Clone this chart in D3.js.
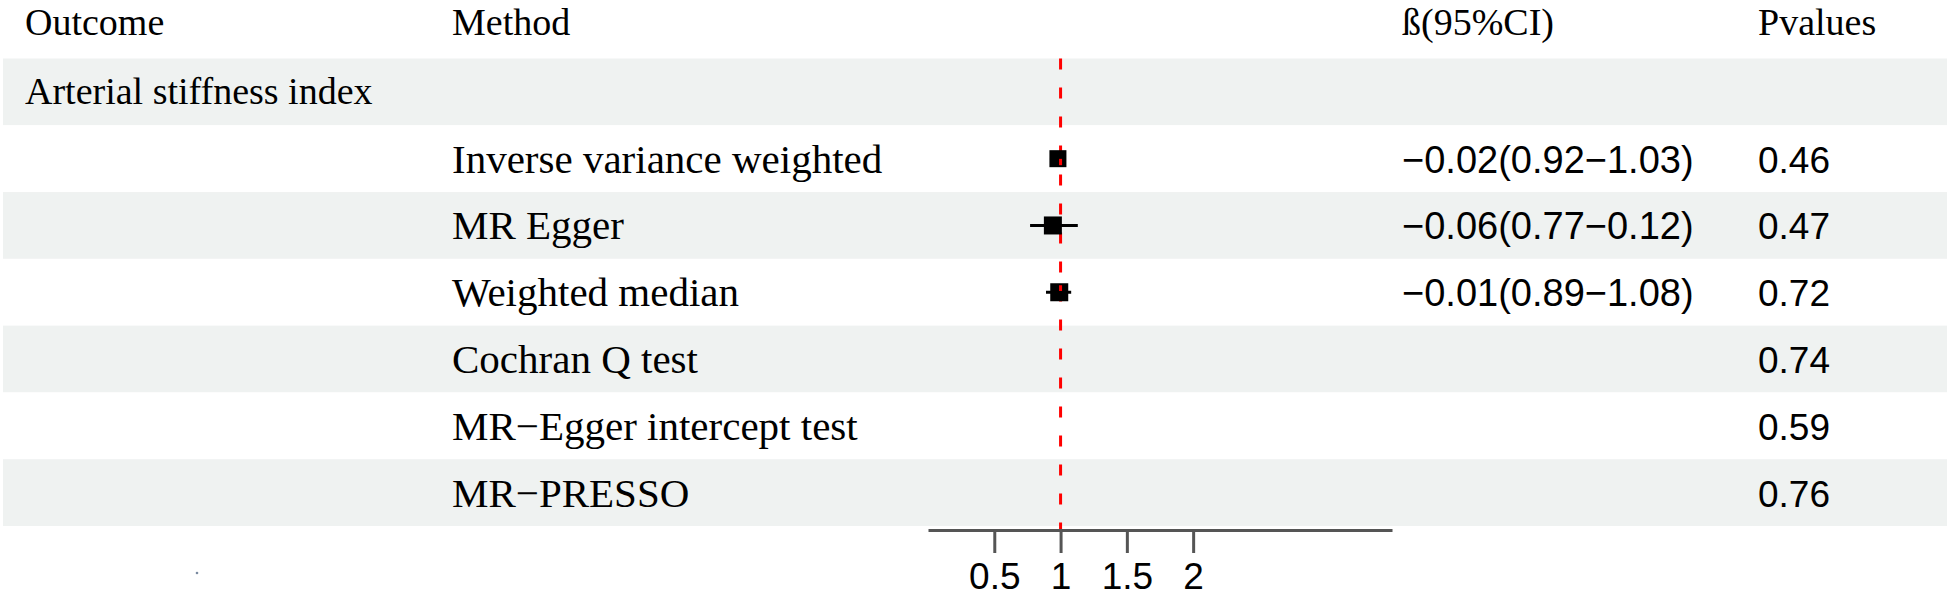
<!DOCTYPE html>
<html>
<head>
<meta charset="utf-8">
<script src="https://cdn.jsdelivr.net/npm/d3@7"></script>
<style>
  html, body { margin: 0; padding: 0; background: #fff; }
  svg { display: block; }
  .serif { font-family: "Liberation Serif", "Times New Roman", serif; }
  .sans { font-family: "Liberation Sans", Arial, sans-serif; }
</style>
</head>
<body>
<svg id="chart" width="1950" height="596"></svg>
<script>
// ---------------- data ----------------
const headers = ["Outcome", "Method", "ß(95%CI)", "Pvalues"];
const outcomes = ["Arterial stiffness index"];
const methods = ["Inverse variance weighted", "MR Egger", "Weighted median",
                 "Cochran Q test", "MR−Egger intercept test", "MR−PRESSO"];
const estimates = [0.98, 0.942, 0.99, null, null, null];
const lowerCI = [0.92, 0.77, 0.89, null, null, null];
const upperCI = [1.03, 1.13, 1.08, null, null, null];
const boxSizes = [17, 18, 18, 0, 0, 0];
const betaLabels = ["−0.02(0.92−1.03)", "−0.06(0.77−0.12)", "−0.01(0.89−1.08)", "", "", ""];
const pValues = ["0.46", "0.47", "0.72", "0.74", "0.59", "0.76"];
const tickValues = [0.5, 1, 1.5, 2];
const refValue = 1;

// ---------------- layout ----------------
const W = 1950, H = 596;
const svg = d3.select("#chart");
const rowCount = outcomes.length + methods.length;
const y = d3.scaleBand().domain(d3.range(rowCount)).range([58.5, 526]).paddingInner(0);
const x = d3.scaleLinear().domain([0, 3.5]).range([928, 1392]);

const colX = { outcome: 25, method: 452, beta: 1402, p: 1758 };
const headerSize = 38, methodSize = 41, betaSize = 38, pSize = 37, tickSize = 37;

// row bands
const rows = [];
outcomes.forEach((o) => rows.push({ type: "outcome", label: o }));
methods.forEach((m, i) => rows.push({ type: "method", label: m, i }));

svg.append("g").selectAll("rect")
  .data(rows)
  .join("rect")
  .attr("x", 3)
  .attr("width", W - 6)
  .attr("y", (d, k) => y(k))
  .attr("height", y.bandwidth())
  .attr("fill", (d, k) => k % 2 === 0 ? "#eff2f1" : "#ffffff");

// header
const hdr = svg.append("g").attr("class", "serif").attr("font-size", headerSize);
[colX.outcome, colX.method, colX.beta, colX.p].forEach((cx, i) => {
  hdr.append("text").attr("x", cx).attr("y", 34.5).text(headers[i]);
});

const baseOff = 12.5;
// outcome label
svg.append("g").attr("class", "serif").attr("font-size", headerSize)
  .selectAll("text").data(outcomes).join("text")
  .attr("x", colX.outcome)
  .attr("y", (d, k) => y(k) + y.bandwidth() / 2 + baseOff)
  .text(d => d);

// method labels
svg.append("g").attr("class", "serif").attr("font-size", methodSize)
  .selectAll("text").data(methods).join("text")
  .attr("x", colX.method)
  .attr("y", (d, i) => y(i + 1) + y.bandwidth() / 2 + baseOff + 1.5)
  .text(d => d);

// beta labels
svg.append("g").attr("class", "sans").attr("font-size", betaSize)
  .selectAll("text").data(betaLabels).join("text")
  .attr("x", colX.beta)
  .attr("y", (d, i) => y(i + 1) + y.bandwidth() / 2 + baseOff + 1.5)
  .text(d => d);

// p values
svg.append("g").attr("class", "sans").attr("font-size", pSize)
  .selectAll("text").data(pValues).join("text")
  .attr("x", colX.p)
  .attr("y", (d, i) => y(i + 1) + y.bandwidth() / 2 + baseOff + 1.5)
  .text(d => d);

// reference line
svg.append("line")
  .attr("x1", x(refValue)).attr("x2", x(refValue))
  .attr("y1", 58.5).attr("y2", 530)
  .attr("stroke", "#ff0000").attr("stroke-width", 3)
  .attr("stroke-dasharray", "11,18");

// CI + boxes
const pts = methods.map((m, i) => ({ i, est: estimates[i], lo: lowerCI[i], hi: upperCI[i], s: boxSizes[i] }))
  .filter(d => d.est != null);
const g = svg.append("g");
g.selectAll("line.ci").data(pts).join("line")
  .attr("class", "ci")
  .attr("x1", d => x(d.lo)).attr("x2", d => x(d.hi))
  .attr("y1", d => y(d.i + 1) + y.bandwidth() / 2)
  .attr("y2", d => y(d.i + 1) + y.bandwidth() / 2)
  .attr("stroke", "#000").attr("stroke-width", 3);
g.selectAll("rect.box").data(pts).join("rect")
  .attr("class", "box")
  .attr("x", d => x(d.est) - d.s / 2)
  .attr("y", d => y(d.i + 1) + y.bandwidth() / 2 - d.s / 2)
  .attr("width", d => d.s).attr("height", d => d.s)
  .attr("fill", "#000");
// red line shows through boxes in reference
svg.append("g").selectAll("line").data(pts).join("line")
  .attr("x1", x(refValue)).attr("x2", x(refValue))
  .attr("y1", d => y(d.i + 1) + y.bandwidth() / 2 - d.s / 2 + 2)
  .attr("y2", d => y(d.i + 1) + y.bandwidth() / 2 + d.s / 2 - 2)
  .attr("stroke", "#ff0000").attr("stroke-width", 3)
  .attr("stroke-dasharray", "11,18")
  .attr("stroke-dashoffset", d => -(y(d.i + 1) + y.bandwidth() / 2 - d.s / 2 + 2 - 58.5));

// axis
const axis = d3.axisBottom(x).tickValues(tickValues).tickSize(23).tickSizeOuter(0).tickPadding(10)
  .tickFormat(d3.format("~g"));
const ax = svg.append("g").attr("transform", "translate(0,530)").call(axis);
ax.select(".domain").attr("stroke", "#555").attr("stroke-width", 3);
ax.selectAll(".tick line").attr("stroke", "#555").attr("stroke-width", 3);
ax.selectAll(".tick text").attr("class", "sans").attr("font-size", tickSize)
  .attr("font-family", "Liberation Sans, Arial, sans-serif").attr("fill", "#000");

// stray dot in the reference
svg.append("circle").attr("cx", 197).attr("cy", 573).attr("r", 1.3).attr("fill", "#7a8aa0");
</script>
</body>
</html>
